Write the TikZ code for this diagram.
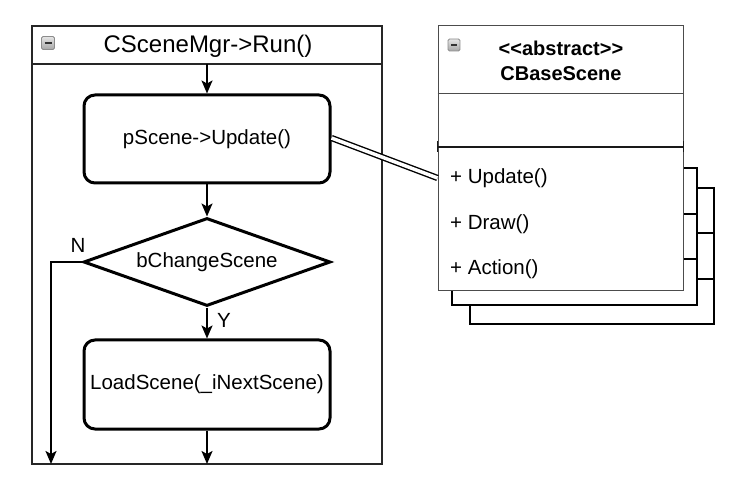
\documentclass[tikz,border=0pt]{standalone}
\usepackage{fontspec}
\setmainfont{Liberation Sans}
\usetikzlibrary{arrows.meta,shapes.geometric}
\begin{document}
\begin{tikzpicture}[x=1pt,y=-1pt,
  frame/.style={draw=black!85,line width=1.5pt,inner sep=0pt},
  proc/.style={draw,line width=3pt,rounded corners=11pt,minimum width=246pt,minimum height=88pt,inner sep=0pt,font=\fontsize{20.5}{24}\selectfont},
  dec/.style={diamond,aspect=3,draw,line width=3pt,minimum width=247pt,minimum height=88pt,inner sep=0pt,font=\fontsize{20.5}{24}\selectfont},
  flow/.style={line width=1.9pt,-{Stealth[length=13pt,width=11pt,inset=3pt]}},
  lbl/.style={font=\fontsize{20.5}{24}\selectfont,inner sep=0pt},
  shadowbox/.style={draw,fill=white,line width=1.9pt,inner sep=0pt},
  clsbox/.style={draw=black!70,fill=white,line width=1pt,inner sep=0pt},
  icon/.style={draw=black!45,rounded corners=1.5pt,top color=black!10,bottom color=black!35,minimum size=13pt,inner sep=0pt,line width=0.8pt},
]
\useasboundingbox (0,0) rectangle (745,489);
\fill[white] (0,0) rectangle (745,489);

% ---- left frame ----
\node[frame,minimum width=350pt,minimum height=438pt] (fr) at (207,245) {};
\draw[black!85,line width=1.5pt] (fr.west |- 0,64) -- (fr.east |- 0,64);
\coordinate (hdr) at (207,64);
\node[icon] (ic1) at (48,43) {};
\draw[black!80,line width=2pt] ([xshift=-3.5pt]ic1.center) -- ([xshift=3.5pt]ic1.center);
\node[lbl,font=\fontsize{24}{28}\selectfont] (title) at (208,46) {CSceneMgr->Run()};

\node[proc] (pu) at (207,139) {pScene->Update()};
\node[dec] (dc) at (207,262) {bChangeScene};
\node[proc,minimum height=89pt] (ls) at (207,384.5) {LoadScene(\_iNextScene)};
\coordinate (nend) at (51,464);
\coordinate (lsend) at (207,464);

\draw[flow] (hdr) -- (pu);
\draw[flow] (pu) -- (dc);
\draw[flow] (dc) -- (ls);
\draw[flow] (dc.west) -| (nend);
\draw[flow] (ls) -- (lsend);
\node[lbl] (nl) at (78,245) {N};
\node[lbl] (yl) at (224,320) {Y};

% ---- class stack ----
\node[shadowbox,minimum width=244pt,minimum height=136pt] (s3) at (592,256) {};
\draw[line width=1.9pt] (s3.west |- 0,233) -- (s3.east |- 0,233);
\draw[line width=1.9pt] (s3.west |- 0,279) -- (s3.east |- 0,279);
\node[shadowbox,minimum width=245pt,minimum height=137pt] (s2) at (574.5,236.5) {};
\draw[line width=1.9pt] (s2.west |- 0,214) -- (s2.east |- 0,214);
\draw[line width=1.9pt] (s2.west |- 0,259) -- (s2.east |- 0,259);

\node[clsbox,minimum width=245pt,minimum height=265pt] (cls) at (560.5,158.5) {};
\draw[black!70,line width=1pt] (cls.west |- 0,94) -- (cls.east |- 0,94);
\draw[black!90,line width=1.4pt] (cls.west |- 0,147) -- (cls.east |- 0,147);
\draw[black!90,line width=1.4pt] (cls.west |- 0,141) -- (cls.west |- 0,152);
\draw[black!90,line width=1.4pt] (cls.east |- 0,141) -- (cls.east |- 0,152);
\node[icon,minimum size=12pt] (ic2) at (454,45) {};
\draw[black!80,line width=2pt] ([xshift=-3pt]ic2.center) -- ([xshift=3pt]ic2.center);
\node[lbl,font=\bfseries\fontsize{20}{24}\selectfont,align=center] (ctitle) at (561,61) {{<}{<}abstract{>}{>}\\[1pt]CBaseScene};
\node[lbl,anchor=west] (m1) at (450,178) {+ Update()};
\node[lbl,anchor=west] (m2) at (450,224) {+ Draw()};
\node[lbl,anchor=west] (m3) at (450,269) {+ Action()};

% ---- connector ----
\draw[line width=1.4pt,double=white,double distance=3.5pt] ([yshift=1pt]pu.east) -- (cls.west |- m1);
\end{tikzpicture}
\end{document}
